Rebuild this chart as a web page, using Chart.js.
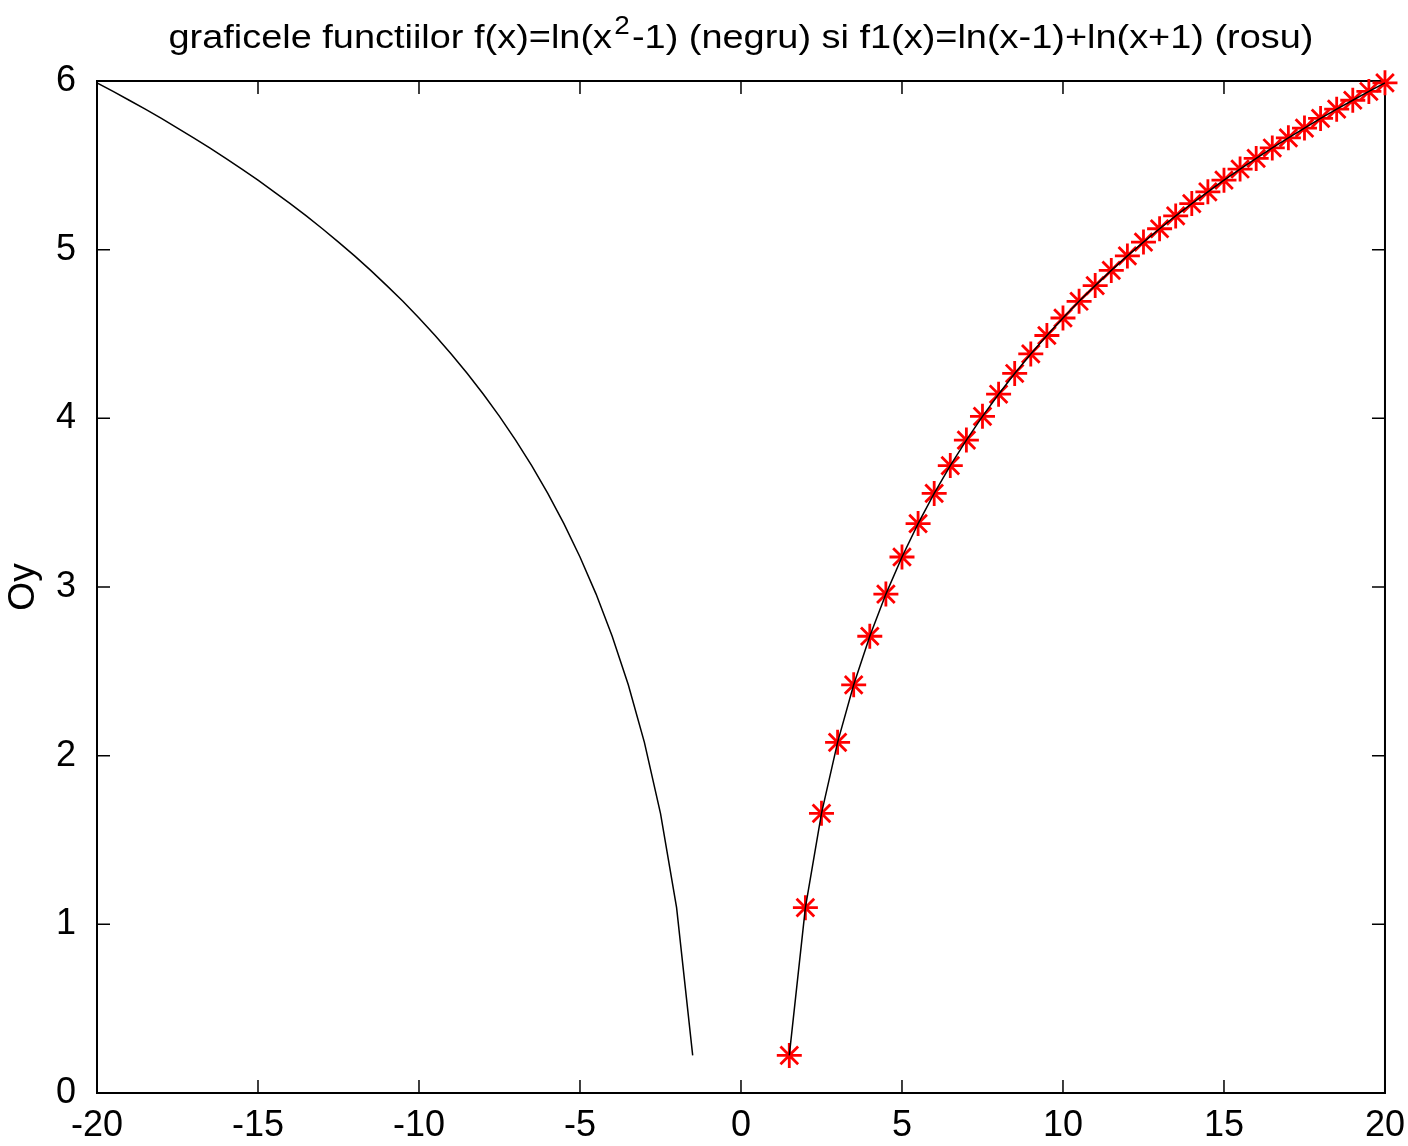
<!DOCTYPE html>
<html>
<head>
<meta charset="utf-8">
<script src="https://cdn.jsdelivr.net/npm/chart.js@4.4.1/dist/chart.umd.min.js"></script>
<style>
  html, body { margin: 0; padding: 0; background: #fff; }
  #wrap { width: 1408px; height: 1146px; }
</style>
</head>
<body>
<div id="wrap"><canvas id="plot"></canvas></div>
<script>
/*globals Chart*/
// x < -1 branch of f(x)=ln(x^2-1)
var xLeft = [-20, -19.5, -19, -18.5, -18, -17.5, -17, -16.5, -16, -15.5, -15, -14.5, -14, -13.5,
             -13, -12.5, -12, -11.5, -11, -10.5, -10, -9.5, -9, -8.5, -8, -7.5, -7, -6.5,
             -6, -5.5, -5, -4.5, -4, -3.5, -3, -2.5, -2, -1.5];
var yLeft = [5.989, 5.938, 5.886, 5.833, 5.778, 5.721, 5.663, 5.603, 5.541, 5.478, 5.412, 5.343,
             5.273, 5.200, 5.124, 5.045, 4.963, 4.877, 4.787, 4.694, 4.595, 4.491, 4.382, 4.266,
             4.143, 4.012, 3.871, 3.720, 3.555, 3.376, 3.178, 2.958, 2.708, 2.420, 2.079, 1.658,
             1.099, 0.223];
// x > 1 branch, same values for f and f1
var xRight = [1.5, 2, 2.5, 3, 3.5, 4, 4.5, 5, 5.5, 6, 6.5, 7, 7.5, 8, 8.5, 9, 9.5, 10, 10.5,
              11, 11.5, 12, 12.5, 13, 13.5, 14, 14.5, 15, 15.5, 16, 16.5, 17, 17.5, 18, 18.5,
              19, 19.5, 20];
var yRight = [0.223, 1.099, 1.658, 2.079, 2.420, 2.708, 2.958, 3.178, 3.376, 3.555, 3.720, 3.871,
              4.012, 4.143, 4.266, 4.382, 4.491, 4.595, 4.694, 4.787, 4.877, 4.963, 5.045, 5.124,
              5.200, 5.273, 5.343, 5.412, 5.478, 5.541, 5.603, 5.663, 5.721, 5.778, 5.833, 5.886,
              5.938, 5.989];
var xTicks = [-20, -15, -10, -5, 0, 5, 10, 15, 20];
var yTicks = [0, 1, 2, 3, 4, 5, 6];

var titleParts = ["graficele functiilor f(x)=ln(x", "2", "-1) (negru) si f1(x)=ln(x-1)+ln(x+1) (rosu)"];
var FONT = '"Liberation Sans", Arial, sans-serif';

function points(xs, ys) {
    var out = [];
    for (let i = 0; i < xs.length; i++) {
        out.push({x: xs[i], y: ys[i]});
    }
    return out;
}

function blackLine(xs, ys) {
    return {data: points(xs, ys),
            borderColor: '#000',
            borderWidth: 1.5,
            pointRadius: 0,
            tension: 0,
            showLine: true};
}

// box round the plot area, ticks pointing inwards on all four sides
var boxPlugin = {
    id: 'box',
    beforeDatasetsDraw: function (chart) {
        var ctx = chart.ctx, a = chart.chartArea;
        var sx = chart.scales.x, sy = chart.scales.y;
        var len = 13;
        ctx.save();
        ctx.strokeStyle = '#000';
        ctx.lineWidth = 1.5;
        ctx.beginPath();
        for (let v of xTicks) {
            let px = sx.getPixelForValue(v);
            ctx.moveTo(px, a.bottom); ctx.lineTo(px, a.bottom - len);
            ctx.moveTo(px, a.top); ctx.lineTo(px, a.top + len);
        }
        for (let v of yTicks) {
            let py = sy.getPixelForValue(v);
            ctx.moveTo(a.left, py); ctx.lineTo(a.left + len, py);
            ctx.moveTo(a.right, py); ctx.lineTo(a.right - len, py);
        }
        ctx.stroke();
        ctx.lineWidth = 2;
        ctx.strokeRect(a.left, a.top, a.right - a.left, a.bottom - a.top);
        ctx.restore();
    }
};

// title with a raised "2"
var titlePlugin = {
    id: 'suptitle',
    afterDraw: function (chart) {
        var ctx = chart.ctx, a = chart.chartArea;
        var big = '34px ' + FONT, small = '25px ' + FONT;
        ctx.save();
        ctx.fillStyle = '#000';
        ctx.textBaseline = 'alphabetic';
        ctx.font = big;
        var w0 = ctx.measureText(titleParts[0]).width;
        var w2 = ctx.measureText(titleParts[2]).width;
        ctx.font = small;
        var w1 = ctx.measureText(titleParts[1]).width + 4;
        var total = w0 + w1 + w2;
        var target = 1145;
        var k = target / total;
        var cx = (a.left + a.right) / 2;
        var base = 48;
        ctx.translate(cx - target / 2, 0);
        ctx.scale(k, 1);
        ctx.textAlign = 'left';
        ctx.font = big;
        ctx.fillText(titleParts[0], 0, base);
        ctx.font = small;
        ctx.fillText(titleParts[1], w0 + 2, base - 14);
        ctx.font = big;
        ctx.fillText(titleParts[2], w0 + w1, base);
        ctx.restore();
    }
};

var ctx = document.getElementById("plot").getContext("2d");
var chart = new Chart(ctx, {
    type: 'scatter',
    data: {
        datasets: [
            blackLine(xLeft, yLeft),
            blackLine(xRight, yRight),
            {data: points(xRight, yRight),
             showLine: false,
             pointStyle: 'star',
             pointRadius: 12.5,
             pointHoverRadius: 12.5,
             pointBorderWidth: 2.8,
             borderColor: '#ff0000',
             backgroundColor: '#ff0000',
             clip: false}
        ]
    },
    options: {
        responsive: true,
        maintainAspectRatio: false,
        animation: false,
        events: [],
        layout: { padding: { top: 81, right: 21, left: 0, bottom: 0 } },
        plugins: { legend: { display: false }, tooltip: { enabled: false } },
        scales: {
            x: {
                type: 'linear',
                min: -20, max: 20,
                afterFit: function (s) { s.height = 53; },
                afterBuildTicks: function (s) { s.ticks = xTicks.map(v => ({value: v})); },
                grid: { display: false },
                border: { display: false },
                ticks: { color: '#000', padding: 3, maxRotation: 0, autoSkip: false,
                         font: { family: FONT, size: 36 } }
            },
            y: {
                type: 'linear',
                min: 0, max: 6,
                afterFit: function (s) { s.width = 97; },
                afterBuildTicks: function (s) { s.ticks = yTicks.map(v => ({value: v})); },
                grid: { display: false },
                border: { display: false },
                ticks: { color: '#000', padding: 13, autoSkip: false,
                         font: { family: FONT, size: 36 } },
                title: { display: true, text: 'Oy', color: '#000', padding: { top: 2, bottom: 0 },
                         font: { family: FONT, size: 37 } }
            }
        }
    },
    plugins: [boxPlugin, titlePlugin]
});
</script>
</body>
</html>
